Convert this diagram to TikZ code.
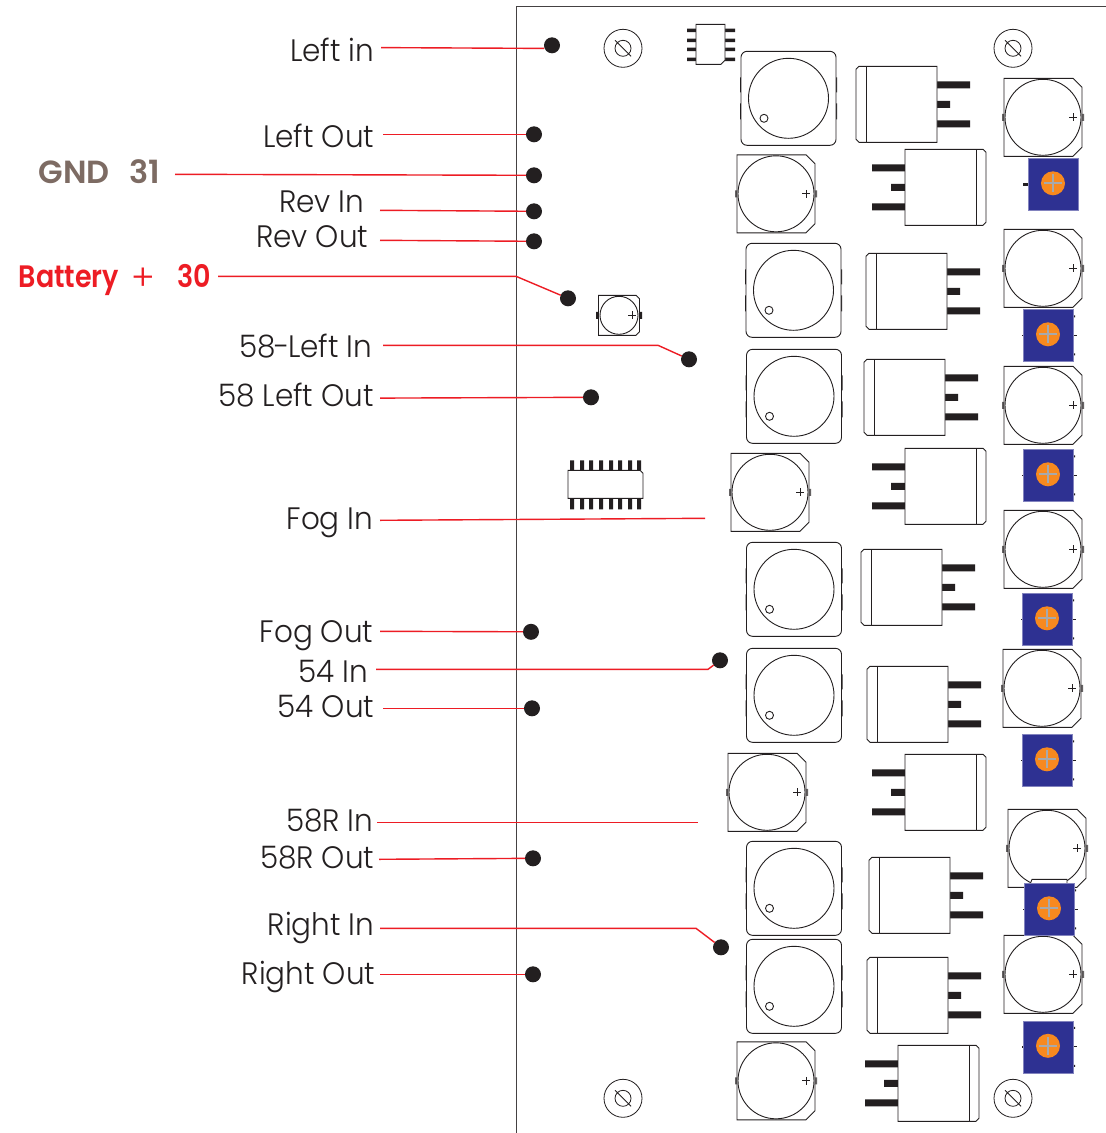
\documentclass[tikz,border=0pt]{standalone}
\usepackage{fontspec}
\setmainfont{Poppins}[UprightFont=* Light,BoldFont=* SemiBold,FakeStretch=0.95]
\newfontfamily\battfont{Poppins SemiBold}[FakeStretch=0.87]
\newfontfamily\gndfont{Poppins SemiBold}
\newfontfamily\plusfont{Poppins Light}
\definecolor{ink}{HTML}{231F20}
\definecolor{wire}{HTML}{ED1C24}
\definecolor{gndc}{HTML}{7D6B63}
\definecolor{trimblue}{HTML}{2E3192}
\definecolor{trimor}{HTML}{F7891F}
\definecolor{trimgr}{HTML}{A7A9AC}
\tikzset{
  part/.style={draw=ink,line width=0.9pt,fill=white},
  pin/.style={fill=ink,draw=none},
  softpin/.style={fill=ink!70,draw=none},
  dotn/.style={circle,fill=ink,draw=none,minimum size=16pt,inner sep=0pt,outer sep=0pt},
  lbl/.style={anchor=base east,inner sep=0pt,text=ink,font=\fontsize{31}{33}\selectfont},
  conn/.style={draw=wire,line width=1.4pt},
}
% square power inductor with two pads per side
\newcommand{\capA}[2]{\begin{scope}[shift={(#1,#2)}]
  \fill[pin] (-48.5,-21) rectangle (-46.5,-6) (-48.5,5) rectangle (-46.5,21);
  \fill[pin] (46.5,-21) rectangle (48.5,-6) (46.5,5) rectangle (48.5,21);
  \draw[part,rounded corners=6pt] (-47.5,-47) rectangle (47.5,47);
  \draw[part] (0,0) circle[radius=40];
  \draw[part] (-24.5,20) circle[radius=4];
\end{scope}}
% chamfered electrolytic capacitor
\newcommand{\capB}[2]{\begin{scope}[shift={(#1,#2)}]
  \fill[softpin] (-41,-3.5) rectangle (-38,3.5) (38,-3.5) rectangle (41,3.5);
  \draw[part] (-39,-39) -- (30,-39) -- (39,-30) -- (39,30) -- (30,39) -- (-39,39) -- cycle;
  \draw[part] (0,0) circle[radius=38];
  \draw[ink,line width=0.8pt] (26,0) -- (34,0) (30,-4) -- (30,4);
\end{scope}}
% block capacitor, tabs right; #1 = body right edge
\newcommand{\capR}[2]{\begin{scope}[shift={(#1,#2)}]
  \fill[pin] (0,-23) rectangle (33,-16) (0,-3.5) rectangle (13,3.5) (0,16) rectangle (33,23);
  \draw[part] (-81,-35) -- (-78,-38) -- (0,-38) -- (0,38) -- (-78,38) -- (-81,35) -- cycle;
  \draw[part] (-71,-38) -- (-71,38);
\end{scope}}
% block capacitor, tabs left; #1 = body left edge
\newcommand{\capL}[2]{\begin{scope}[shift={(#1,#2)}]
  \fill[pin] (0,-23) rectangle (-33,-16) (0,-3.5) rectangle (-14,3.5) (0,16) rectangle (-33,23);
  \draw[part] (81,-35) -- (78,-38) -- (0,-38) -- (0,38) -- (78,38) -- (81,35) -- cycle;
  \draw[part] (71,-38) -- (71,38);
\end{scope}}
% trimmer
\newcommand{\trim}[2]{\begin{scope}[shift={(#1,#2)}]
  \fill[pin] (-26,-0.8) rectangle (-25,0.8);
  \fill[pin] (25,-20) rectangle (27,-18) (25,18) rectangle (27,20);
  \fill[pin] (25,-0.4) rectangle (29,0.4);
  \fill[trimblue] (-25,-26) rectangle (25,26);
  \draw[trimblue!60!white,line width=0.6pt] (-25,-26) rectangle (25,26);
  \fill[trimor] (0,-1) circle[radius=12];
  \draw[trimgr,line width=2.2pt] (-9,-1) -- (9,-1) (0,-10) -- (0,8);
\end{scope}}
% mounting hole
\newcommand{\hole}[2]{\begin{scope}[shift={(#1,#2)}]
  \draw[ink,line width=0.8pt] (0,0) circle[radius=19] (0,0) circle[radius=8] (-8,-8) -- (8,8);
\end{scope}}
\begin{document}
\begin{tikzpicture}[x=1pt,y=-1pt]
\useasboundingbox (0,-0.3) rectangle (1106,1132.7);
\fill[white] (0,-0.3) rectangle (1106,1132.7);
% board outline
\draw[ink!85,line width=1pt] (516,1132.7) -- (516,6.5) -- (1106,6.5);
% holes
\hole{623}{48}\hole{1013}{48}\hole{623}{1098}\hole{1013}{1098}
% top IC
\fill[pin] (687,28.2) rectangle (696,31.8) (687,38.2) rectangle (696,41.8) (687,47.2) rectangle (696,50.8) (687,57.2) rectangle (696,60.8);
\fill[pin] (725,28.2) rectangle (735,31.8) (725,38.2) rectangle (735,41.8) (725,47.2) rectangle (735,50.8) (725,57.2) rectangle (735,60.8);
\draw[part] (696,24) -- (725,24) -- (725,60) -- (721,64) -- (696,64) -- cycle;
% bottom IC
\foreach \px in {572,582,591,601,611,620,630,639}{
  \fill[pin] (\px-2,460) rectangle (\px+2,470) (\px-2,498) rectangle (\px+2,509);
}
\draw[part] (568,470) -- (640,470) -- (643,473) -- (643,498) -- (568,498) -- cycle;
% small cap
\begin{scope}[shift={(619,315)}]
  \fill[pin] (-23,-3.5) rectangle (-20,3.5) (20,-3.5) rectangle (23,3.5);
  \draw[part] (-20.5,-20) -- (17,-20) -- (20.5,-16.5) -- (20.5,16.5) -- (17,20) -- (-20.5,20) -- cycle;
  \draw[part] (0,0) circle[radius=19];
  \draw[ink,line width=0.8pt] (9,0) -- (17,0) (13,-4) -- (13,4);
\end{scope}
% components
\capA{788.5}{98}\capA{793.5}{290}\capA{794}{396}\capA{794}{589}\capA{794}{695}\capA{794}{888}\capA{794}{986}
\capB{1043}{117}\capB{776}{193.5}\capB{1043}{268}\capB{1043}{405}\capB{770}{492}\capB{1043}{549}\capB{1042}{688}\capB{767}{792}\capB{1047}{848}\capB{1043}{974}\capB{776}{1080.5}
\capR{937}{104}\capR{947}{291}\capR{945}{397}\capR{942}{587}\capR{948}{704}\capR{950}{895}\capR{948}{995}
\capL{905}{187}\capL{905}{486}\capL{905}{792}\capL{898}{1083}
\draw[part] (1030,884) -- (1032,879) -- (1067,879) -- (1067,884);
\trim{1048}{335}\trim{1048}{475}\trim{1047}{619}\trim{1047}{760}\trim{1049}{909}\trim{1048}{1046.5}
% first trimmer: a single long left pin
\fill[pin] (1023,182.5) rectangle (1028,186);
\fill[trimblue] (1028,158) rectangle (1078,210);
\draw[trimblue!60!white,line width=0.6pt] (1028,158) rectangle (1078,210);
\fill[trimor] (1053,183) circle[radius=12];
\draw[trimgr,line width=2.2pt] (1044,183) -- (1062,183) (1053,174) -- (1053,192);
% dots
\node[dotn] (dLeftIn) at (552,45) {};
\node[dotn] (dLeftOut) at (534,134) {};
\node[dotn] (dGnd) at (534,175) {};
\node[dotn] (dRevIn) at (534,211) {};
\node[dotn] (dRevOut) at (534,241) {};
\node[dotn] (dBatt) at (568,298) {};
\node[dotn] (dFiftyEightLI) at (689,359) {};
\node[dotn] (dFiftyEightLO) at (591,397) {};
\node[dotn] (dFogOut) at (531,631.5) {};
\node[dotn] (dFiftyFourI) at (720,660) {};
\node[dotn] (dFiftyFourO) at (532,708) {};
\node[dotn] (dFiftyEightRO) at (533,858) {};
\node[dotn] (dRightIn) at (721,947) {};
\node[dotn] (dRightOut) at (533,974) {};
% labels
\node[lbl] (tLeftIn) at (374.5,61) {Left in};
\node[lbl] (tLeftOut) at (374.5,147) {Left Out};
\node[anchor=base east,inner sep=0pt,text=gndc,font=\fontsize{32}{34}\gndfont] (tGnd) at (160.5,183) {GND\hspace{20pt}31};
\node[lbl] (tRevIn) at (364.5,212) {Rev In};
\node[lbl] (tRevOut) at (368.5,247) {Rev Out};
\node[anchor=base east,inner sep=0pt,text=wire,font=\fontsize{31}{33}\battfont] (tBatt) at (211.5,287) {Battery\hspace{12pt}\raisebox{-3pt}{\fontsize{36}{36}\plusfont +}\hspace{23pt}30};
\node[lbl] (tFiftyEightLI) at (372.5,357) {58\kern-1.5pt-\kern-1.5pt Left In};
\node[lbl] (tFiftyEightLO) at (374,406) {58 Left Out};
\node[lbl] (tFogIn) at (373.5,529) {Fog In};
\node[lbl] (tFogOut) at (373.5,642) {Fog Out};
\node[lbl] (tFiftyFourI) at (368.5,682) {54 In};
\node[lbl] (tFiftyFourO) at (374.5,717) {54 Out};
\node[lbl] (tFiftyEightRI) at (373.5,831) {58R In};
\node[lbl] (tFiftyEightRO) at (374.5,868) {58R Out};
\node[lbl] (tRightIn) at (374.5,935) {Right In};
\node[lbl] (tRightOut) at (375.5,984) {Right Out};
% leader starts and free ends
\coordinate (sLeftIn) at (381,47.3);
\coordinate (sLeftOut) at (383,134);
\coordinate (sGnd) at (175,174);
\coordinate (sRevIn) at (380,210);
\coordinate (sRevOut) at (380,240);
\coordinate (sBatt) at (218,276);
\coordinate (sFiftyEightLI) at (383,345);
\coordinate (sFiftyEightLO) at (380,397.8);
\coordinate (sFogIn) at (380,520);
\coordinate (eFogIn) at (705,518);
\coordinate (sFogOut) at (380,631);
\coordinate (sFiftyFourI) at (376,669);
\coordinate (sFiftyFourO) at (383,708);
\coordinate (sFiftyEightRI) at (377,822);
\coordinate (eFiftyEightRI) at (698,822);
\coordinate (sFiftyEightRO) at (379,859);
\coordinate (sRightIn) at (380,928);
\coordinate (sRightOut) at (380,974);
% connectors
\draw[conn] (sLeftIn) -- ([yshift=-0.8pt]sLeftIn -| dLeftIn.west);
\draw[conn] (sLeftOut) -- (dLeftOut);
\draw[conn] (sGnd) -- (dGnd);
\draw[conn] (sRevIn) -- (dRevIn);
\draw[conn] (sRevOut) -- (dRevOut);
\draw[conn] (sBatt) -- (516,276) -- (dBatt);
\draw[conn] (sFiftyEightLI) -- (658,345) -- (dFiftyEightLI);
\draw[conn] (sFiftyEightLO) -- (dFiftyEightLO);
\draw[conn] (sFogIn) -- (eFogIn);
\draw[conn] (sFogOut) -- (dFogOut);
\draw[conn] (sFiftyFourI) -- (708,669) -- (dFiftyFourI);
\draw[conn] (sFiftyFourO) -- (dFiftyFourO);
\draw[conn] (sFiftyEightRI) -- (eFiftyEightRI);
\draw[conn] (sFiftyEightRO) -- (dFiftyEightRO);
\draw[conn] (sRightIn) -- (696,928) -- (dRightIn);
\draw[conn] (sRightOut) -- (dRightOut);
\end{tikzpicture}
\end{document}
